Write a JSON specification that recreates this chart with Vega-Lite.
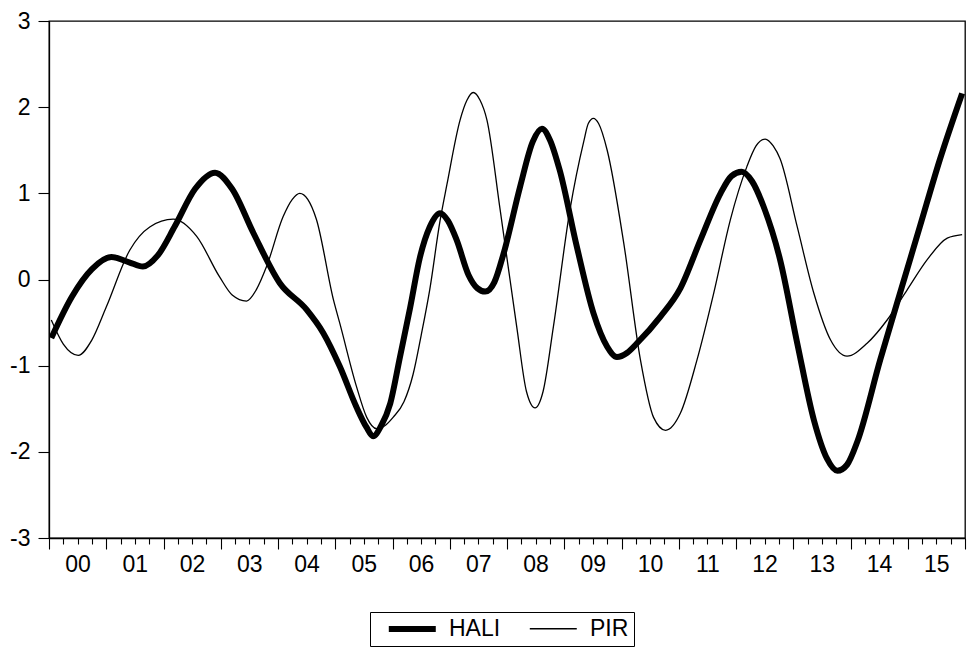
{
  "$schema": "https://vega.github.io/schema/vega-lite/v6.json",
  "width": 916,
  "height": 517,
  "autosize": {"type": "none"},
  "padding": {"left": 49, "top": 21, "right": 4, "bottom": 112},
  "background": "white",
  "config": {
    "font": "Liberation Sans",
    "view": {"stroke": "black", "strokeWidth": 1.3},
    "axis": {"labelFont": "Liberation Sans", "labelFontSize": 22, "labelColor": "black", "domainColor": "black", "tickColor": "black", "grid": false, "title": null, "domainWidth": 1.3, "tickWidth": 1.1}
  },
  "datasets": {
    "series": [
      {"t": 0.04, "v": -0.68, "s": "HALI"},
      {"t": 0.4, "v": -0.2, "s": "HALI"},
      {"t": 0.75, "v": 0.12, "s": "HALI"},
      {"t": 1.09, "v": 0.26, "s": "HALI"},
      {"t": 1.4, "v": 0.2, "s": "HALI"},
      {"t": 1.64, "v": 0.15, "s": "HALI"},
      {"t": 1.9, "v": 0.28, "s": "HALI"},
      {"t": 2.2, "v": 0.62, "s": "HALI"},
      {"t": 2.55, "v": 1.05, "s": "HALI"},
      {"t": 2.9, "v": 1.24, "s": "HALI"},
      {"t": 3.2, "v": 1.05, "s": "HALI"},
      {"t": 3.57, "v": 0.54, "s": "HALI"},
      {"t": 4.03, "v": -0.04, "s": "HALI"},
      {"t": 4.5, "v": -0.35, "s": "HALI"},
      {"t": 4.79, "v": -0.62, "s": "HALI"},
      {"t": 5.08, "v": -1.01, "s": "HALI"},
      {"t": 5.37, "v": -1.48, "s": "HALI"},
      {"t": 5.55, "v": -1.72, "s": "HALI"},
      {"t": 5.66, "v": -1.82, "s": "HALI"},
      {"t": 5.8, "v": -1.7, "s": "HALI"},
      {"t": 5.96, "v": -1.44, "s": "HALI"},
      {"t": 6.13, "v": -0.9, "s": "HALI"},
      {"t": 6.31, "v": -0.32, "s": "HALI"},
      {"t": 6.48, "v": 0.26, "s": "HALI"},
      {"t": 6.65, "v": 0.61, "s": "HALI"},
      {"t": 6.83, "v": 0.77, "s": "HALI"},
      {"t": 6.97, "v": 0.68, "s": "HALI"},
      {"t": 7.12, "v": 0.46, "s": "HALI"},
      {"t": 7.33, "v": 0.05, "s": "HALI"},
      {"t": 7.48, "v": -0.1, "s": "HALI"},
      {"t": 7.62, "v": -0.14, "s": "HALI"},
      {"t": 7.78, "v": -0.03, "s": "HALI"},
      {"t": 7.94, "v": 0.3, "s": "HALI"},
      {"t": 8.23, "v": 1.08, "s": "HALI"},
      {"t": 8.45, "v": 1.6, "s": "HALI"},
      {"t": 8.61, "v": 1.75, "s": "HALI"},
      {"t": 8.75, "v": 1.62, "s": "HALI"},
      {"t": 8.92, "v": 1.27, "s": "HALI"},
      {"t": 9.22, "v": 0.38, "s": "HALI"},
      {"t": 9.51, "v": -0.39, "s": "HALI"},
      {"t": 9.75, "v": -0.78, "s": "HALI"},
      {"t": 9.92, "v": -0.9, "s": "HALI"},
      {"t": 10.1, "v": -0.85, "s": "HALI"},
      {"t": 10.27, "v": -0.74, "s": "HALI"},
      {"t": 10.68, "v": -0.43, "s": "HALI"},
      {"t": 11.03, "v": -0.1, "s": "HALI"},
      {"t": 11.38, "v": 0.46, "s": "HALI"},
      {"t": 11.73, "v": 1.0, "s": "HALI"},
      {"t": 11.92, "v": 1.2, "s": "HALI"},
      {"t": 12.1, "v": 1.25, "s": "HALI"},
      {"t": 12.28, "v": 1.14, "s": "HALI"},
      {"t": 12.48, "v": 0.85, "s": "HALI"},
      {"t": 12.77, "v": 0.23, "s": "HALI"},
      {"t": 13.07, "v": -0.74, "s": "HALI"},
      {"t": 13.36, "v": -1.63, "s": "HALI"},
      {"t": 13.59, "v": -2.08, "s": "HALI"},
      {"t": 13.77, "v": -2.22, "s": "HALI"},
      {"t": 13.94, "v": -2.15, "s": "HALI"},
      {"t": 14.12, "v": -1.88, "s": "HALI"},
      {"t": 14.52, "v": -0.93, "s": "HALI"},
      {"t": 14.81, "v": -0.28, "s": "HALI"},
      {"t": 15.21, "v": 0.61, "s": "HALI"},
      {"t": 15.56, "v": 1.39, "s": "HALI"},
      {"t": 15.95, "v": 2.16, "s": "HALI"},
      {"t": 0.04, "v": -0.47, "s": "PIR"},
      {"t": 0.25, "v": -0.75, "s": "PIR"},
      {"t": 0.51, "v": -0.88, "s": "PIR"},
      {"t": 0.75, "v": -0.7, "s": "PIR"},
      {"t": 1.0, "v": -0.32, "s": "PIR"},
      {"t": 1.41, "v": 0.34, "s": "PIR"},
      {"t": 1.76, "v": 0.61, "s": "PIR"},
      {"t": 2.17, "v": 0.7, "s": "PIR"},
      {"t": 2.58, "v": 0.5, "s": "PIR"},
      {"t": 2.98, "v": 0.03, "s": "PIR"},
      {"t": 3.2, "v": -0.18, "s": "PIR"},
      {"t": 3.45, "v": -0.25, "s": "PIR"},
      {"t": 3.62, "v": -0.12, "s": "PIR"},
      {"t": 3.8, "v": 0.15, "s": "PIR"},
      {"t": 4.09, "v": 0.73, "s": "PIR"},
      {"t": 4.25, "v": 0.93, "s": "PIR"},
      {"t": 4.38, "v": 1.0, "s": "PIR"},
      {"t": 4.52, "v": 0.93, "s": "PIR"},
      {"t": 4.67, "v": 0.7, "s": "PIR"},
      {"t": 4.97, "v": -0.24, "s": "PIR"},
      {"t": 5.08, "v": -0.51, "s": "PIR"},
      {"t": 5.37, "v": -1.24, "s": "PIR"},
      {"t": 5.55, "v": -1.6, "s": "PIR"},
      {"t": 5.72, "v": -1.73, "s": "PIR"},
      {"t": 5.86, "v": -1.7, "s": "PIR"},
      {"t": 6.01, "v": -1.6, "s": "PIR"},
      {"t": 6.2, "v": -1.42, "s": "PIR"},
      {"t": 6.36, "v": -1.1, "s": "PIR"},
      {"t": 6.5, "v": -0.65, "s": "PIR"},
      {"t": 6.65, "v": -0.12, "s": "PIR"},
      {"t": 6.83, "v": 0.68, "s": "PIR"},
      {"t": 6.95, "v": 1.1, "s": "PIR"},
      {"t": 7.18, "v": 1.85, "s": "PIR"},
      {"t": 7.3, "v": 2.08, "s": "PIR"},
      {"t": 7.41, "v": 2.17, "s": "PIR"},
      {"t": 7.53, "v": 2.08, "s": "PIR"},
      {"t": 7.65, "v": 1.85, "s": "PIR"},
      {"t": 7.88, "v": 0.81, "s": "PIR"},
      {"t": 8.17, "v": -0.55, "s": "PIR"},
      {"t": 8.34, "v": -1.3, "s": "PIR"},
      {"t": 8.49, "v": -1.49, "s": "PIR"},
      {"t": 8.63, "v": -1.3, "s": "PIR"},
      {"t": 8.81, "v": -0.55, "s": "PIR"},
      {"t": 9.1, "v": 0.81, "s": "PIR"},
      {"t": 9.34, "v": 1.6, "s": "PIR"},
      {"t": 9.42, "v": 1.81, "s": "PIR"},
      {"t": 9.51, "v": 1.87, "s": "PIR"},
      {"t": 9.6, "v": 1.81, "s": "PIR"},
      {"t": 9.75, "v": 1.5, "s": "PIR"},
      {"t": 10.04, "v": 0.42, "s": "PIR"},
      {"t": 10.33, "v": -0.93, "s": "PIR"},
      {"t": 10.56, "v": -1.6, "s": "PIR"},
      {"t": 10.77, "v": -1.75, "s": "PIR"},
      {"t": 11.03, "v": -1.55, "s": "PIR"},
      {"t": 11.32, "v": -0.93, "s": "PIR"},
      {"t": 11.61, "v": -0.16, "s": "PIR"},
      {"t": 11.9, "v": 0.69, "s": "PIR"},
      {"t": 12.19, "v": 1.31, "s": "PIR"},
      {"t": 12.35, "v": 1.55, "s": "PIR"},
      {"t": 12.51, "v": 1.63, "s": "PIR"},
      {"t": 12.65, "v": 1.55, "s": "PIR"},
      {"t": 12.77, "v": 1.4, "s": "PIR"},
      {"t": 13.07, "v": 0.61, "s": "PIR"},
      {"t": 13.36, "v": -0.16, "s": "PIR"},
      {"t": 13.65, "v": -0.7, "s": "PIR"},
      {"t": 13.94, "v": -0.89, "s": "PIR"},
      {"t": 14.29, "v": -0.74, "s": "PIR"},
      {"t": 14.64, "v": -0.47, "s": "PIR"},
      {"t": 14.99, "v": -0.12, "s": "PIR"},
      {"t": 15.34, "v": 0.23, "s": "PIR"},
      {"t": 15.69, "v": 0.48, "s": "PIR"},
      {"t": 15.95, "v": 0.52, "s": "PIR"}
    ]
  },
  "data": {"name": "series"},
  "layer": [
    {
      "transform": [{"filter": "datum.s === 'PIR'"}],
      "mark": {"type": "line", "interpolate": "monotone", "clip": true, "color": "black"},
      "encoding": {
        "x": {"field": "t", "type": "quantitative", "scale": {"domain": [0, 16], "nice": false, "zero": false},
          "axis": {"orient": "bottom", "values": [0.5, 1.5, 2.5, 3.5, 4.5, 5.5, 6.5, 7.5, 8.5, 9.5, 10.5, 11.5, 12.5, 13.5, 14.5, 15.5], "ticks": false, "domain": false, "labelFontSize": 23, "labelPadding": 15, "labelExpr": "(floor(datum.value) < 10 ? '0' : '') + floor(datum.value)"}},
        "y": {"field": "v", "type": "quantitative", "scale": {"domain": [-3, 3], "nice": false, "zero": false},
          "axis": {"values": [-3, -2, -1, 0, 1, 2, 3], "labelExpr": "'' + datum.value", "labelFontSize": 23, "tickSize": 11, "labelPadding": 8}},
        "strokeWidth": {"field": "s", "type": "ordinal", "scale": {"domain": ["HALI", "PIR"], "range": [6, 1.3]},
          "legend": {"orient": "none", "legendX": 321, "legendY": 591, "direction": "horizontal", "columns": 2, "title": null, "strokeColor": "black", "fillColor": "white", "padding": 5, "symbolType": "M0.2,0H5.42", "symbolSize": 324, "symbolStrokeColor": "black", "labelFontSize": 23, "labelFont": "Liberation Sans", "labelColor": "black", "labelOffset": 50, "columnPadding": 15}}
      }
    },
    {
      "transform": [{"filter": "datum.s === 'HALI'"}],
      "mark": {"type": "line", "interpolate": "monotone", "clip": true, "strokeCap": "butt", "color": "black"},
      "encoding": {
        "x": {"field": "t", "type": "quantitative", "scale": {"domain": [0, 16], "nice": false, "zero": false},
          "axis": {"orient": "bottom", "values": [0, 0.25, 0.5, 0.75, 1, 1.25, 1.5, 1.75, 2, 2.25, 2.5, 2.75, 3, 3.25, 3.5, 3.75, 4, 4.25, 4.5, 4.75, 5, 5.25, 5.5, 5.75, 6, 6.25, 6.5, 6.75, 7, 7.25, 7.5, 7.75, 8, 8.25, 8.5, 8.75, 9, 9.25, 9.5, 9.75, 10, 10.25, 10.5, 10.75, 11, 11.25, 11.5, 11.75, 12, 12.25, 12.5, 12.75, 13, 13.25, 13.5, 13.75, 14, 14.25, 14.5, 14.75, 15, 15.25, 15.5, 15.75, 16], "labels": false,
            "tickSize": {"condition": {"test": "datum.value % 1 === 0", "value": 11}, "value": 6}}},
        "y": {"field": "v", "type": "quantitative"},
        "strokeWidth": {"field": "s", "type": "ordinal",
          "legend": {"orient": "none", "legendX": 321, "legendY": 591, "direction": "horizontal", "columns": 2, "title": null, "strokeColor": "black", "fillColor": "white", "padding": 5, "symbolType": "M0.2,0H5.42", "symbolSize": 324, "symbolStrokeColor": "black", "labelFontSize": 23, "labelFont": "Liberation Sans", "labelColor": "black", "labelOffset": 50, "columnPadding": 15}}
      }
    }
  ],
  "resolve": {"axis": {"x": "independent"}}
}
